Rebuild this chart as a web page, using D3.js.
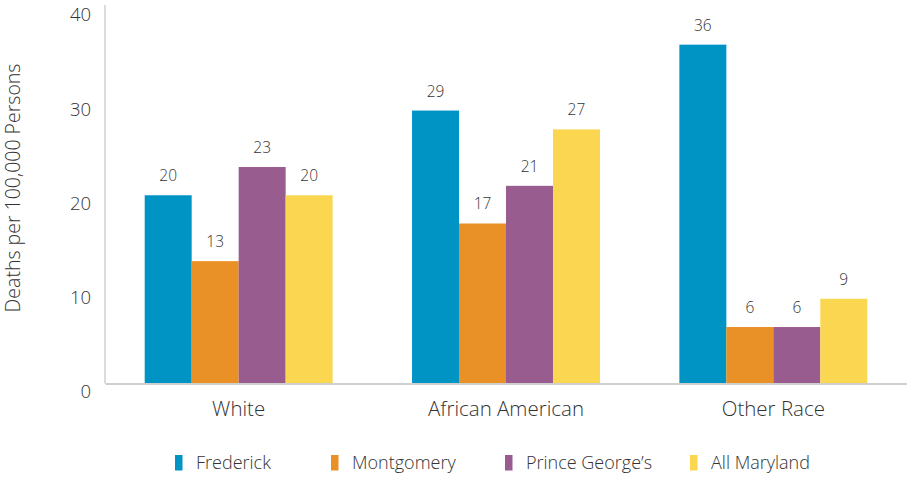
<!DOCTYPE html>
<html>
<head>
<meta charset="utf-8">
<script src="https://cdn.jsdelivr.net/npm/d3@7"></script>
<style>
  html, body { margin: 0; padding: 0; background: #fff; }
  svg { display: block; font-family: "Open Sans", "Liberation Sans", Arial, sans-serif; font-weight: 300; }
</style>
</head>
<body>
<svg id="chart" width="907" height="478"></svg>
<script>
const categories = ["White", "African American", "Other Race"];
const seriesNames = ["Frederick", "Montgomery", "Prince George\u2019s", "All Maryland"];
const frederick = [20, 29, 36];
const montgomery = [13, 17, 6];
const princeGeorges = [23, 21, 6];
const allMaryland = [20, 27, 9];
const yTicks = [0, 10, 20, 30, 40];
const colors = ["#0094C5", "#E99126", "#995C8E", "#FBD650"];

(function () {
const FONT = "'Open Sans', 'Liberation Sans', Arial, sans-serif";
const seriesValues = [frederick, montgomery, princeGeorges, allMaryland];
const data = categories.map((c, i) => ({
  category: c,
  values: seriesNames.map((s, j) => ({ series: s, idx: j, value: seriesValues[j][i] }))
}));

const svg = d3.select("#chart");
const mLeft = 105, mRight = 907, mTop = 7, mBottom = 383.5;

const x0 = d3.scaleBand().domain(categories).range([mLeft, mRight]).padding(0);
const step = x0.bandwidth();
const x1 = d3.scaleBand().domain(d3.range(seriesNames.length))
  .range([step * 0.1485, step * 0.8515]).padding(0);
const y = d3.scaleLinear().domain([0, 40]).range([mBottom, mTop]);

// y axis
const yAxis = svg.append("g").attr("transform", `translate(${mLeft},0)`)
  .call(d3.axisLeft(y).tickValues(yTicks).tickSize(0).tickPadding(14));
yAxis.select(".domain").attr("stroke", "#cfcfcf").attr("stroke-width", 1.5)
  .attr("d", `M0,${y(40) - 2}V${mBottom}`);
yAxis.selectAll("text")
  .attr("font-size", 18.5).attr("fill", "#333").attr("font-weight", 300)
  .attr("dy", "0.75em")
  .attr("font-family", FONT);

// y title
svg.append("text")
  .attr("transform", `translate(19.5,188) rotate(-90)`)
  .attr("text-anchor", "middle")
  .attr("font-size", 19.5).attr("fill", "#333").attr("font-weight", 300)
  .attr("font-family", FONT)
  .text("Deaths per 100,000 Persons");

// bars
const groups = svg.append("g").selectAll("g").data(data).join("g")
  .attr("transform", d => `translate(${x0(d.category)},0)`);

groups.selectAll("rect").data(d => d.values).join("rect")
  .attr("x", d => x1(d.idx))
  .attr("width", x1.bandwidth())
  .attr("y", d => y(d.value))
  .attr("height", d => y(0) - y(d.value))
  .attr("fill", d => colors[d.idx]);

groups.selectAll("text.val").data(d => d.values).join("text")
  .attr("class", "val")
  .attr("x", d => x1(d.idx) + x1.bandwidth() / 2)
  .attr("y", d => y(d.value) - 14)
  .attr("text-anchor", "middle")
  .attr("font-size", 15.5).attr("fill", "#333").attr("font-weight", 300)
  .attr("font-family", FONT)
  .text(d => d.value);

// x axis baseline
const xAxis = svg.append("g").attr("transform", `translate(0,${mBottom})`)
  .call(d3.axisBottom(x0).tickSize(0).tickPadding(18));
xAxis.select(".domain").attr("stroke", "#cfcfcf").attr("stroke-width", 2);
xAxis.selectAll("text")
  .attr("font-size", 20.5).attr("fill", "#333").attr("font-weight", 300)
  .attr("font-family", FONT);

// legend
const legendX = [175, 331, 505, 690];
const legend = svg.append("g").selectAll("g").data(seriesNames).join("g")
  .attr("transform", (d, i) => `translate(${legendX[i]},455)`);
legend.append("rect").attr("width", 7.5).attr("height", 15.5)
  .attr("fill", (d, i) => colors[i]);
legend.append("text").attr("x", 21).attr("y", 14)
  .attr("font-size", 18).attr("fill", "#333").attr("font-weight", 300)
  .attr("font-family", FONT)
  .text(d => d);
})();
</script>
</body>
</html>
